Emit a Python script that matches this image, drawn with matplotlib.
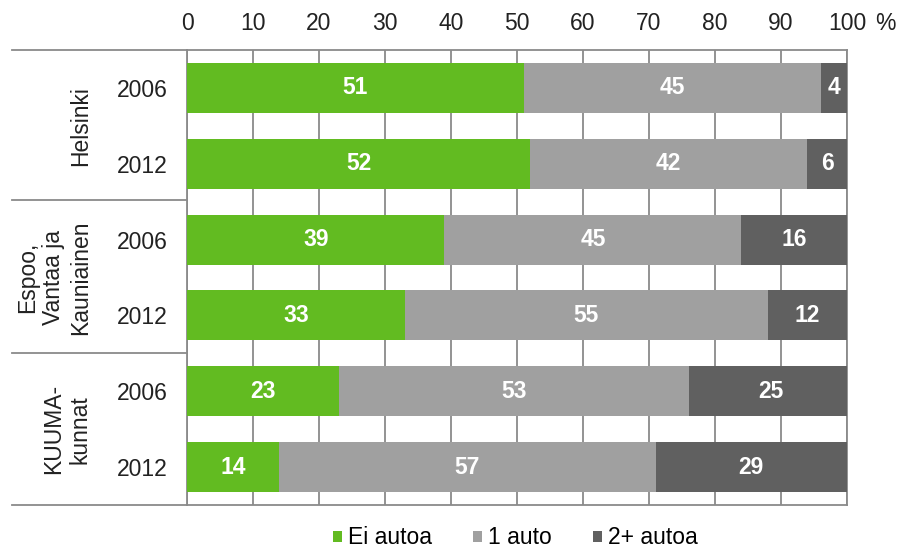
import matplotlib
matplotlib.use("Agg")
import matplotlib.pyplot as plt
import matplotlib.transforms as mtransforms
from matplotlib.patches import Patch
from matplotlib.lines import Line2D

plt.rcParams['font.family'] = ['Liberation Sans', 'DejaVu Sans']

years = ["2006", "2012", "2006", "2012", "2006", "2012"]
groups = ["Helsinki", "Espoo,\nVantaa ja\nKauniainen", "KUUMA-\nkunnat"]
ei_autoa = [51, 52, 39, 33, 23, 14]
yksi_auto = [45, 42, 45, 55, 53, 57]
kaksi_autoa = [4, 6, 16, 12, 25, 29]
series_names = ["Ei autoa", "1 auto", "2+ autoa"]
colors = ["#62bb21", "#a0a0a0", "#606060"]
xticks = [0, 10, 20, 30, 40, 50, 60, 70, 80, 90, 100]

W, H = 909, 550
fig = plt.figure(figsize=(W / 100, H / 100), dpi=100)
L, R, T, B = 187, 847, 50, 505
ax = fig.add_axes([L / W, 1 - B / H, (R - L) / W, (B - T) / H])

fs = 16.5
gridc = "#8a8a8a"
n = len(years)
ypos = list(range(n))
lefts = [0] * n
for vals, col in zip([ei_autoa, yksi_auto, kaksi_autoa], colors):
    bars = ax.barh(ypos, vals, left=lefts, height=0.66, color=col, zorder=3)
    for b, v, l in zip(bars, vals, lefts):
        ax.text(l + v / 2, b.get_y() + b.get_height() / 2, str(v), ha="center",
                va="center", color="white", fontsize=fs, fontweight="bold", zorder=4)
    lefts = [a + b for a, b in zip(lefts, vals)]

ax.set_xlim(0, 100)
ax.set_ylim(n - 0.5, -0.5)
ax.set_xticks(xticks)
ax.xaxis.tick_top()
ax.tick_params(axis="x", length=0, pad=11, labelsize=fs, colors="#222222")
ax.set_yticks(ypos)
ax.set_yticklabels(years)
ax.tick_params(axis="y", length=0, pad=14, labelsize=fs, colors="#222222")
ax.grid(axis="x", color=gridc, linewidth=1.3, zorder=0)
for s in ["left", "right", "top", "bottom"]:
    ax.spines[s].set_color(gridc)
    ax.spines[s].set_linewidth(1.3)

# percent sign
fig.text(885 / W, 1 - 23 / H, "%", ha="center", va="center", fontsize=fs, color="#222222")

# horizontal separator lines extending to the left
for ypx in [T, 200, 353, B]:
    fig.add_artist(Line2D([12 / W, L / W], [1 - ypx / H, 1 - ypx / H],
                          color=gridc, linewidth=1.3))

# group labels
trans = mtransforms.blended_transform_factory(fig.transFigure, ax.transData)
for i, g in enumerate(groups):
    yc = (2 * i + 0.5)
    ax.text(92 / W, yc, g, transform=trans,
            rotation=90, ha="right", va="center", multialignment="center", fontsize=fs,
            color="#222222", linespacing=1.2)

handles = [Patch(facecolor=c, edgecolor="none") for c in colors]
fig.legend(handles, series_names, loc="center", bbox_to_anchor=(515 / W, 1 - 538 / H),
           ncol=3, frameon=False, fontsize=fs, handlelength=0.4, handleheight=0.4,
           handletextpad=0.25, columnspacing=1.8)

fig.savefig("out.png", dpi=100)
